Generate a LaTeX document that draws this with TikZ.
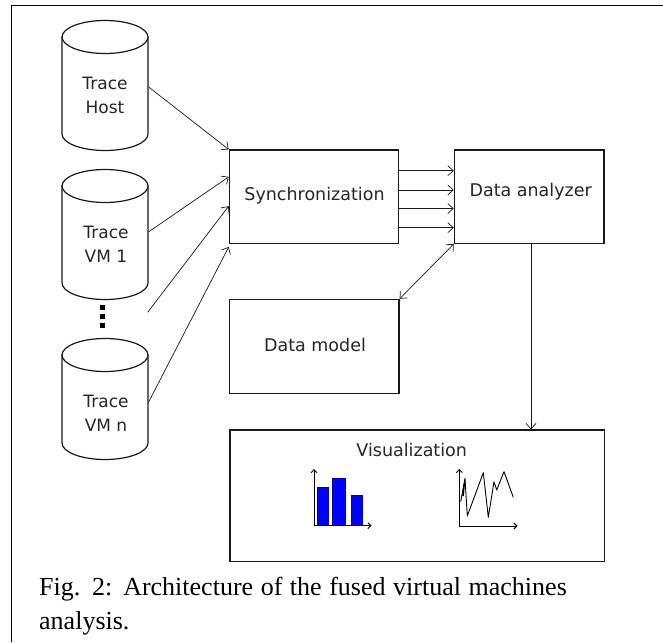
\documentclass[tikz,border=0pt]{standalone}
\usepackage{fontspec}
\setmainfont{Liberation Serif}
\newfontfamily\dejavu{DejaVu Sans}
\usetikzlibrary{arrows.meta,calc}
\tikzset{
  box/.style={draw=black!90, line width=1.2pt, inner sep=0pt, fill=white},
  lbl/.style={inner sep=0pt, text=black!85, font=\dejavu\fontsize{17.5}{21}\selectfont},
  cyllbl/.style={inner sep=0pt, text=black!85, align=center, font=\dejavu\fontsize{17}{23.8}\selectfont},
  cyl/.style={draw=black!90, line width=1.2pt, fill=white},
  arr/.style={line width=0.7pt, draw=black!90, -{Straight Barb[length=5.5pt,width=10pt]}},
  dblarr/.style={line width=0.7pt, draw=black!90, {Straight Barb[length=5.5pt,width=10pt]}-{Straight Barb[length=5.5pt,width=10pt]}},
  axis/.style={line width=0.9pt, -{Straight Barb[length=3pt,width=6pt]}},
  bar/.style={fill=blue, draw=blue!70!black, line width=0.4pt},
  caption/.style={inner sep=0pt, anchor=base west, font=\fontsize{26}{34.5}\selectfont}
}
\begin{document}
\begin{tikzpicture}[x=1pt,y=-1pt]
\useasboundingbox (0,0) rectangle (663,642);
% frame
\draw[line width=1pt] (11.7,642) -- (11.7,5.3) -- (663,5.3);

% cylinders
\foreach \yt/\yb in {37/134, 186/283, 355/443}{
  \draw[cyl] (62,\yt) -- (62,\yb) arc[start angle=180, end angle=360, x radius=43pt, y radius=16.5pt] -- (148,\yt) -- cycle;
  \draw[cyl] (105,\yt) ellipse [x radius=43pt, y radius=16.5pt];
}
\node[cyllbl] (host) at (105,95.8) {Trace\\Host};
\node[cyllbl] (vm1) at (106,244) {Trace\\VM 1};
\node[cyllbl] (vmn) at (106,413) {Trace\\VM n};
% dots
\foreach \y in {307.5,316.8,325.8}{
  \fill (100.2,\y-2.5) rectangle (105.2,\y+2.5);
}

% boxes
\node[box, minimum width=169pt, minimum height=93.3pt] (sync) at (313.8,196.7) {};
\node[lbl] (synclbl) at (314.5,196) {Synchronization};
\node[box, minimum width=149.7pt, minimum height=93.3pt] (da) at (529.2,196.7) {};
\node[lbl] (dalbl) at (530.7,191.7) {Data analyzer};
\node[box, minimum width=169.7pt, minimum height=94pt] (dm) at (314.2,346.3) {};
\node[lbl] (dmlbl) at (315,345) {Data model};
\node[box, minimum width=374.3pt, minimum height=131.7pt] (vis) at (417.2,495.9) {};
\node[lbl] (vislbl) at (411.7,450) {Visualization};

% inputs to synchronization
\coordinate (hostout) at (148.3,86.7);
\coordinate (vm1out) at (149,231.6);
\coordinate (dotsout) at (147.7,312.3);
\coordinate (vmnout) at (148.3,402.7);
\draw[arr] (hostout) -- (sync.north west);
\draw[arr] (vm1out) -- ($(sync.north west)!0.29!(sync.south west)$);
\draw[arr] (dotsout) -- ($(sync.north west)!0.60!(sync.south west)$);
\draw[arr] (vmnout) -- ([yshift=-3pt]sync.south west);

% sync -> data analyzer
\foreach \f in {0.225,0.429,0.625,0.828}{
  \draw[arr] ($(sync.north east)!\f!(sync.south east)$) -- ($(da.north west)!\f!(da.south west)$);
}
% data model <-> data analyzer
\draw[dblarr] (dm.north east) -- (da.south west);
% data analyzer -> visualization
\draw[arr] ([xshift=1.8pt]da.south) -- ([xshift=1.8pt]da.south |- vis.north);

% bar chart
\fill[bar] (316.7,525.2) rectangle (328.3,487.3);
\fill[bar] (332.3,525.2) rectangle (345,478);
\fill[bar] (350.7,525.2) rectangle (362.3,495);
\draw[bar] (316.7,525.2) rectangle (328.3,487.3);
\draw[bar] (332.3,525.2) rectangle (345,478);
\draw[bar] (350.7,525.2) rectangle (362.3,495);
\draw[axis] (314,525.7) -- (314,469);
\draw[axis] (314,525.7) -- (371.5,525.7);

% line chart
\draw[axis] (459.3,526) -- (459.3,469);
\draw[axis] (459.3,526) -- (517.5,526);
\draw[line width=0.9pt, line join=round] (460.7,501.7) -- (465,478.3) -- (467.3,516) -- (483.3,472.7) -- (488.3,517.3) -- (494,481.7) -- (496.7,490) -- (504,471.7) -- (513.3,497.3);
\draw[line width=1.6pt] (464.2,484) -- (463,496);

% caption
\node[caption] (cap1) at (39,595) {\makebox[527.6pt][s]{Fig. 2: Architecture of the fused virtual machines}};
\node[caption] (cap2) at (39,629.5) {analysis.};
\end{tikzpicture}
\end{document}
